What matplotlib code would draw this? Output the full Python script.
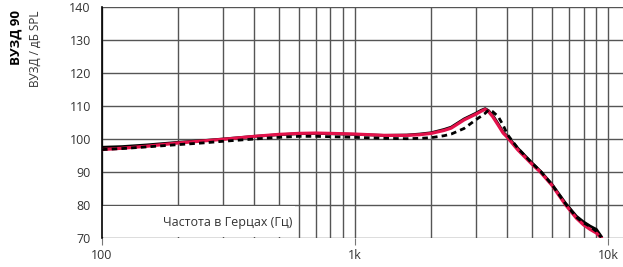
import numpy as np
import matplotlib
matplotlib.use("Agg")
import matplotlib.pyplot as plt
from matplotlib.patches import Rectangle

# ===== DATA =====
freq = [100, 120, 150, 200, 250, 300, 400, 500, 600, 700, 800, 1000, 1300,
        1600, 1800, 2000, 2250, 2400, 2700, 3000, 3150, 3270, 3370, 3500,
        3680, 3850, 4000, 4400, 5000, 5400, 6000, 6800, 7500, 8000, 8500,
        9000, 9400]
spl_black = [97.5, 97.7, 98.2, 99.0, 99.5, 100.0, 100.8, 101.3, 101.6, 101.7,
             101.6, 101.4, 101.1, 101.2, 101.5, 101.9, 102.9, 103.6, 106.1,
             107.8, 108.7, 109.2, 108.6, 107.2, 104.6, 102.1, 100.8, 97.2,
             92.8, 90.3, 86.3, 80.5, 76.6, 74.9, 73.6, 72.6, 70.5]
spl_red = [96.8, 97.2, 97.8, 98.8, 99.4, 99.9, 100.8, 101.4, 101.7, 101.8,
           101.7, 101.5, 101.1, 101.1, 101.3, 101.7, 102.6, 103.3, 105.8,
           107.5, 108.4, 109.0, 108.3, 106.8, 104.2, 101.8, 100.5, 96.7,
           92.4, 90.0, 86.0, 80.0, 76.0, 74.0, 72.6, 71.5, 70.0]
spl_dash = [96.8, 97.1, 97.6, 98.3, 98.8, 99.3, 100.0, 100.5, 100.8, 100.8,
            100.7, 100.5, 100.2, 100.1, 100.2, 100.4, 101.0, 101.5, 103.2,
            105.8, 106.9, 107.8, 108.8, 108.3, 106.8, 104.2, 101.4, 97.2,
            92.7, 90.3, 86.2, 80.3, 76.3, 74.6, 73.5, 72.0, 70.2]

yticks = [70, 80, 90, 100, 110, 120, 130, 140]
xticks = [100, 1000, 10000]
xticklabels = ["100", "1k", "10k"]

plt.rcParams['font.family'] = ['Open Sans', 'DejaVu Sans']
text_col = '#333333'

fig = plt.figure(figsize=(6.23, 2.67), dpi=100)
ax = fig.add_axes([0.1637, 0.1086, 0.8363, 0.8652])

ax.set_xscale('log')
ax.set_xlim(100, 11460)
ax.set_ylim(70, 140)

# grid
ax.set_xticks(xticks)
ax.set_xticklabels(xticklabels)
ax.set_xticks([f for d in (100, 1000) for f in np.arange(2, 10) * d], minor=True)
ax.xaxis.set_minor_formatter(plt.NullFormatter())
ax.set_yticks(yticks)
ax.grid(True, which='both', axis='x', color='#555555', linewidth=1.0)
ax.grid(True, which='major', axis='y', color='#555555', linewidth=1.0)
ax.tick_params(axis='x', which='major', length=5, color='#777777', labelsize=9,
               labelcolor=text_col, pad=3)
ax.tick_params(axis='x', which='minor', length=0)
ax.tick_params(axis='y', length=0, labelsize=9, labelcolor=text_col, pad=8)

for s in ('top', 'right', 'bottom'):
    ax.spines[s].set_visible(False)
ax.spines['left'].set_color('black')
ax.spines['left'].set_linewidth(1.2)

# curves
ax.plot(freq, spl_black, color='black', linewidth=2.0, zorder=3)
ax.plot(freq, spl_red, color='#e3124b', linewidth=2.3, zorder=4)
ax.plot(freq, spl_dash, color='black', linewidth=2.0, linestyle=(0, (2, 1.5)), zorder=5)

# label box over the grid
ax.add_patch(Rectangle((100, 70.4), 480, 9.2, facecolor='white', edgecolor='none', zorder=2.5))
ax.text(564, 74.7, 'Частота в Герцах (Гц)', fontsize=9, color=text_col,
        ha='right', va='center', zorder=6)

# y labels
fig.text(0.025, 0.9625, 'ВУЗД 90', rotation=90, fontsize=9.5, fontweight='bold',
         color='black', ha='center', va='top')
fig.text(0.057, 0.9625, 'ВУЗД / дБ SPL', rotation=90, fontsize=8.5, color=text_col,
         ha='center', va='top')

fig.savefig('out.png', dpi=100)
